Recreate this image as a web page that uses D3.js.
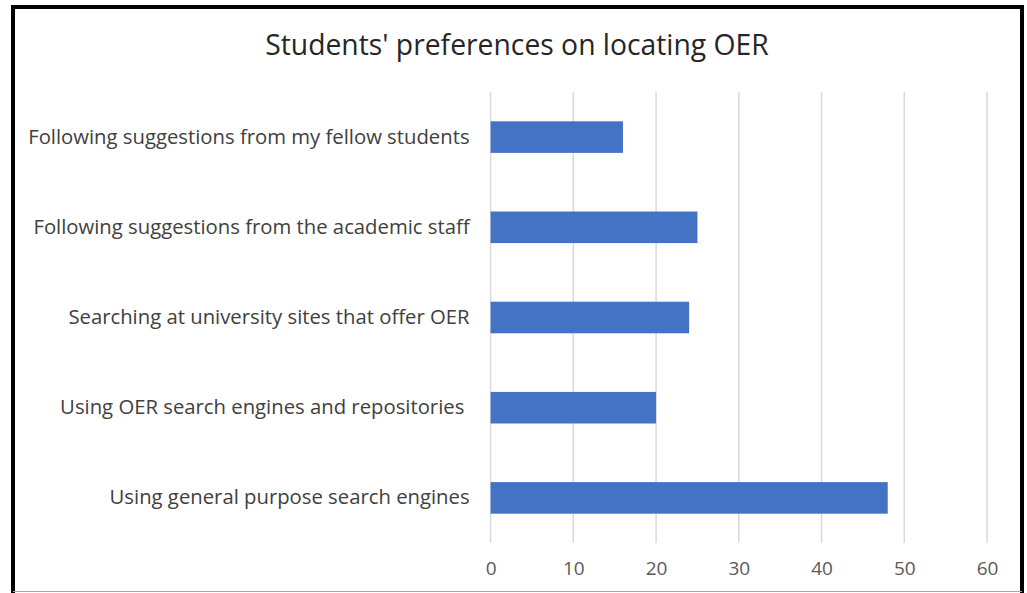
<!DOCTYPE html>
<html>
<head>
<meta charset="utf-8">
<script src="https://cdn.jsdelivr.net/npm/d3@7"></script>
<style>
  body { margin: 0; background: #fff; }
  text { font-family: "Open Sans", "Noto Sans", sans-serif; white-space: pre; }
</style>
</head>
<body>
<div id="chart"></div>
<script>
// data, top to bottom
var categories = [
  "Following suggestions from my fellow students",
  "Following suggestions from the academic staff",
  "Searching at university sites that offer OER",
  "Using OER search engines and repositories ",
  "Using general purpose search engines"
];
var values = [16, 25, 24, 20, 48];
var xTicks = [0, 10, 20, 30, 40, 50, 60];
var title = "Students' preferences on locating OER";

var svg_w = 1027, svg_h = 593;
var plot = { left: 490.6, right: 987, top: 92, bottom: 543 };

var data = categories.map(function(c, i) { return { cat: c, value: values[i] }; });

var svg = d3.select("#chart")
      .append("svg")
      .attr("width", svg_w)
      .attr("height", svg_h);

// outer frame: thick black on top/left/right, thin grey at the bottom
svg.append("rect")
  .attr("x", 0).attr("y", 0)
  .attr("width", svg_w).attr("height", svg_h)
  .style("fill", "#fff");

svg.append("path")
  .attr("d", "M13,593 L13,7 L1022,7 L1022,593")
  .style("fill", "none")
  .style("stroke", "#000")
  .style("stroke-width", 4);

svg.append("line")
  .attr("x1", 13).attr("x2", 1022)
  .attr("y1", 591.5).attr("y2", 591.5)
  .style("stroke", "#a6a6a6")
  .style("stroke-width", 1);

var xScale = d3.scaleLinear()
      .domain([0, 60])
      .range([plot.left, plot.right]);

var yScale = d3.scaleBand()
      .domain(categories)
      .range([plot.top, plot.bottom])
      .paddingInner(0.65)
      .paddingOuter(0.325);

// gridlines
svg.append("g").selectAll("line")
  .data(xTicks)
  .enter()
  .append("line")
  .attr("x1", function(d) { return xScale(d); })
  .attr("x2", function(d) { return xScale(d); })
  .attr("y1", plot.top)
  .attr("y2", plot.bottom)
  .style("stroke", "#d9d9d9")
  .style("stroke-width", 1.5);

// bars
svg.append("g").selectAll("rect")
  .data(data)
  .enter()
  .append("rect")
  .attr("x", xScale(0))
  .attr("y", function(d) { return yScale(d.cat); })
  .attr("width", function(d) { return xScale(d.value) - xScale(0); })
  .attr("height", yScale.bandwidth())
  .style("fill", "#4472c4");

// category labels
var yAxis = d3.axisLeft(yScale).tickSize(0).tickPadding(21);
var gy = svg.append("g")
  .attr("transform", "translate(" + plot.left + ",0)")
  .call(yAxis);
gy.select(".domain").remove();
gy.selectAll("text")
  .style("font-size", "20.3px")
  .style("fill", "#404040")
  .style("font-family", "'Open Sans', sans-serif");

// x axis tick labels
var xAxis = d3.axisBottom(xScale).tickValues(xTicks).tickSize(0).tickPadding(19);
var gx = svg.append("g")
  .attr("transform", "translate(0," + plot.bottom + ")")
  .call(xAxis);
gx.select(".domain").remove();
gx.selectAll("text")
  .style("font-size", "19px")
  .style("fill", "#595959")
  .style("font-family", "'Open Sans', sans-serif");

svg.append("text")
  .attr("x", 517)
  .attr("y", 55)
  .attr("text-anchor", "middle")
  .style("font-size", "28.3px")
  .style("fill", "#262626")
  .text(title);
</script>
</body>
</html>
